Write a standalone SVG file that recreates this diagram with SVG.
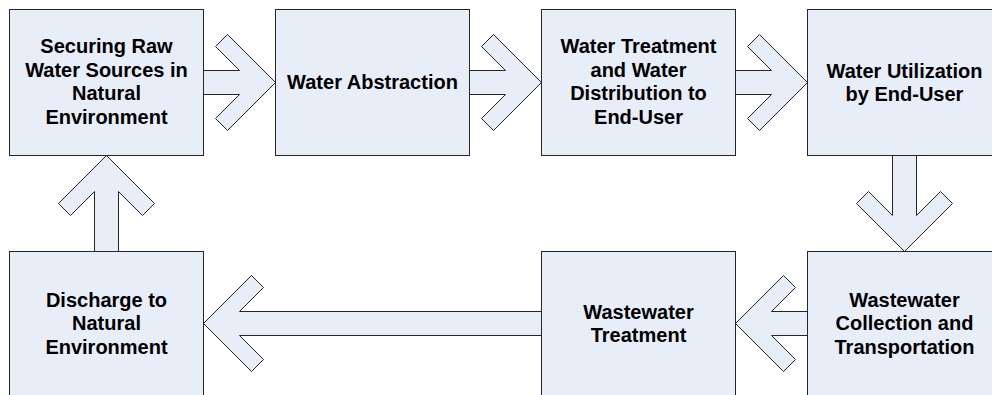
<svg xmlns="http://www.w3.org/2000/svg" width="992" height="395" viewBox="0 0 992 395">
  <style>
    .box { fill: #E8EEF7; stroke: #262626; stroke-width: 1; }
    .arrow { fill: #E8EEF7; stroke: #262626; stroke-width: 1; stroke-linejoin: miter; }
    .label { font-family: "Liberation Sans", Arial, sans-serif; font-weight: bold; font-size: 20px; fill: #000; text-anchor: middle; }
  </style>
  <rect x="0" y="0" width="992" height="395" fill="#FFFFFF"/>

  <!-- block arrows between the stages -->
  <g id="connectors">
    <polygon class="arrow" points="203.5,70.5 239.5,70.5 215.5,46.5 227.5,34.5 275.5,82.5 227.5,130.5 215.5,118.5 239.5,94.5 203.5,94.5"/>
    <polygon class="arrow" points="469.5,70.5 505.5,70.5 481.5,46.5 493.5,34.5 541.5,82.5 493.5,130.5 481.5,118.5 505.5,94.5 469.5,94.5"/>
    <polygon class="arrow" points="735.5,70.5 771.5,70.5 747.5,46.5 759.5,34.5 807.5,82.5 759.5,130.5 747.5,118.5 771.5,94.5 735.5,94.5"/>
    <polygon class="arrow" points="892.5,155.5 892.5,215.5 868.5,191.5 856.5,203.5 904.5,251.5 952.5,203.5 940.5,191.5 916.5,215.5 916.5,155.5"/>
    <polygon class="arrow" points="807.5,311.5 771.5,311.5 795.5,287.5 783.5,275.5 735.5,323.5 783.5,371.5 795.5,359.5 771.5,335.5 807.5,335.5"/>
    <polygon class="arrow" points="541.5,311.5 239.5,311.5 263.5,287.5 251.5,275.5 203.5,323.5 251.5,371.5 263.5,359.5 239.5,335.5 541.5,335.5"/>
    <polygon class="arrow" points="94.5,251.5 94.5,191.5 70.5,215.5 58.5,203.5 106.5,155.5 154.5,203.5 142.5,215.5 118.5,191.5 118.5,251.5"/>
  </g>

  <!-- top row -->
  <g id="raw-water-sources">
    <rect class="box" x="9.5" y="9.5" width="194" height="146"/>
    <text class="label" x="106.5" y="53">Securing Raw</text>
    <text class="label" x="106.5" y="76.5">Water Sources in</text>
    <text class="label" x="106.5" y="100">Natural</text>
    <text class="label" x="106.5" y="123.5">Environment</text>
  </g>
  <g id="water-abstraction">
    <rect class="box" x="275.5" y="9.5" width="194" height="146"/>
    <text class="label" x="372.5" y="89">Water Abstraction</text>
  </g>
  <g id="treatment-distribution">
    <rect class="box" x="541.5" y="9.5" width="194" height="146"/>
    <text class="label" x="638.5" y="53">Water Treatment</text>
    <text class="label" x="638.5" y="76.5">and Water</text>
    <text class="label" x="638.5" y="100">Distribution to</text>
    <text class="label" x="638.5" y="123.5">End-User</text>
  </g>
  <g id="water-utilization">
    <rect class="box" x="807.5" y="9.5" width="194" height="146"/>
    <text class="label" x="904.5" y="77.5">Water Utilization</text>
    <text class="label" x="904.5" y="101">by End-User</text>
  </g>

  <!-- bottom row -->
  <g id="discharge">
    <rect class="box" x="9.5" y="251.5" width="194" height="146"/>
    <text class="label" x="106.5" y="306.5">Discharge to</text>
    <text class="label" x="106.5" y="330">Natural</text>
    <text class="label" x="106.5" y="353.5">Environment</text>
  </g>
  <g id="wastewater-treatment">
    <rect class="box" x="541.5" y="251.5" width="194" height="146"/>
    <text class="label" x="638.5" y="318.5">Wastewater</text>
    <text class="label" x="638.5" y="342">Treatment</text>
  </g>
  <g id="wastewater-collection">
    <rect class="box" x="807.5" y="251.5" width="194" height="146"/>
    <text class="label" x="904.5" y="306.5">Wastewater</text>
    <text class="label" x="904.5" y="330">Collection and</text>
    <text class="label" x="904.5" y="353.5">Transportation</text>
  </g>
</svg>
